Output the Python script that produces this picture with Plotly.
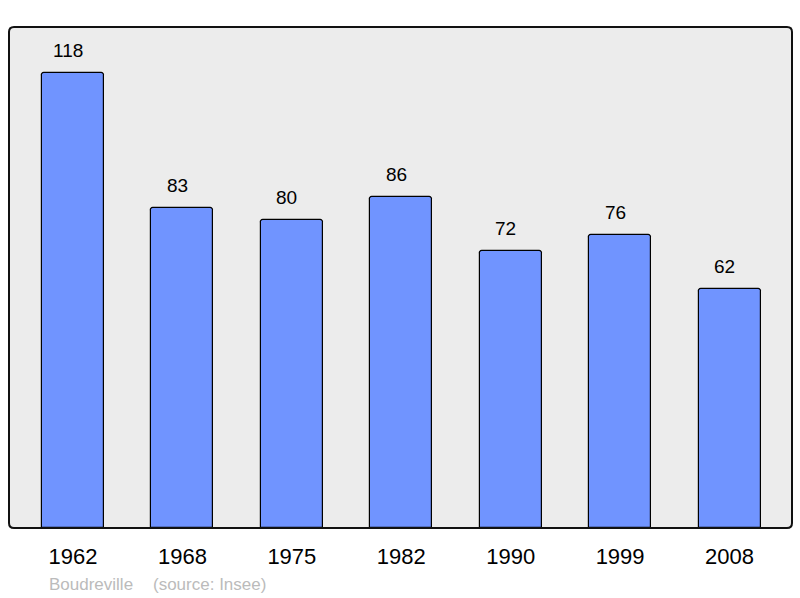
import plotly.graph_objects as go

years = ["1962", "1968", "1975", "1982", "1990", "1999", "2008"]
population = [118, 83, 80, 86, 72, 76, 62]
footer_name = "Boudreville"
footer_source = "(source: Insee)"

W, H = 800, 598
ml, mr, mt, mb = 9, 8, 27, 70
pw, ph = W - ml - mr, H - mt - mb
FONT = "Liberation Sans, Arial"

fig = go.Figure()
fig.add_trace(go.Bar(
    x=years, y=population, width=0.567,
    marker=dict(color="#7094ff", line=dict(color="#000000", width=1.2), cornerradius=3),
    hoverinfo="skip",
))

for i, v in enumerate(population):
    fig.add_annotation(x=i, y=v, xref="x", yref="y", text=str(v), showarrow=False,
                       yanchor="bottom", yshift=10, xshift=-5,
                       font=dict(family=FONT, size=19, color="#000"))

# rounded border around the plot area (paper coords)
r = 5
rx, ry = r / pw, r / ph
path = (f"M {rx},0 L {1-rx},0 Q 1,0 1,{ry} L 1,{1-ry} Q 1,1 {1-rx},1 "
        f"L {rx},1 Q 0,1 0,{1-ry} L 0,{ry} Q 0,0 {rx},0 Z")
fig.add_shape(type="path", path=path, xref="paper", yref="paper",
              line=dict(color="#111111", width=2), layer="above")

for txt, px in [(footer_name, 47), (footer_source, 151)]:
    fig.add_annotation(xref="paper", yref="paper", x=(px - ml) / pw,
                       y=-(584 - (H - mb)) / ph, text=txt, showarrow=False,
                       xanchor="left", yanchor="middle",
                       font=dict(family=FONT, size=17, color="#bbbbbb"))

fig.update_layout(
    width=W, height=H,
    margin=dict(l=ml, r=mr, t=mt, b=mb, pad=0),
    paper_bgcolor="#ffffff", plot_bgcolor="#ececec",
    showlegend=False,
    bargap=0,
    xaxis=dict(type="category", range=[-0.585, 6.571], showgrid=False, zeroline=False,
               ticks="outside", ticklen=9, tickcolor="rgba(0,0,0,0)",
               tickfont=dict(family=FONT, size=22, color="#000"),
               fixedrange=True),
    yaxis=dict(range=[0, 130], showgrid=False, zeroline=False, showticklabels=False,
               ticks="", fixedrange=True),
)

fig.write_html("out.html", config={"displayModeBar": False},
               post_script="document.body.style.margin='0';document.body.style.padding='0';")
